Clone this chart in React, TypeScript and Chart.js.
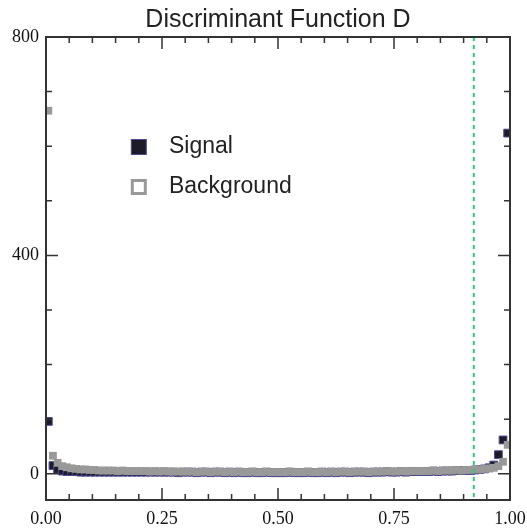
import { useEffect, useRef } from 'react';
import { Chart, registerables } from 'chart.js';

Chart.register(...registerables);

const titleText = 'Discriminant Function D';
const legendLabels = ['Signal', 'Background'];
const binWidth = 0.01;
const signalCounts = [
  96, 15, 8, 5, 4, 4, 4, 3, 3, 3,
  3, 3, 3, 3, 3, 3, 3, 3, 3, 3,
  3, 3, 3, 3, 3, 3, 3, 3, 2, 3,
  3, 3, 2, 3, 3, 2, 3, 3, 2, 3,
  2, 3, 2, 2, 3, 2, 2, 3, 2, 2,
  2, 2, 3, 2, 2, 2, 3, 2, 2, 3,
  2, 3, 2, 3, 3, 2, 3, 3, 3, 2,
  3, 3, 3, 4, 3, 3, 4, 3, 4, 4,
  4, 4, 4, 5, 4, 5, 5, 5, 6, 6,
  6, 6, 7, 8, 9, 11, 16, 35, 62, 624,
];
const backgroundCounts = [
  665, 33, 20, 14, 12, 10, 9, 8, 8, 7,
  7, 6, 6, 6, 6, 5, 6, 5, 5, 5,
  5, 5, 4, 5, 4, 5, 4, 4, 4, 4,
  4, 4, 3, 4, 4, 3, 4, 4, 3, 4,
  3, 4, 3, 3, 4, 3, 3, 4, 3, 3,
  3, 3, 4, 3, 3, 3, 4, 3, 3, 4,
  3, 4, 3, 4, 4, 3, 4, 4, 4, 3,
  4, 4, 4, 5, 4, 4, 5, 4, 5, 5,
  5, 5, 5, 6, 5, 6, 6, 6, 7, 6,
  7, 7, 8, 8, 9, 10, 11, 14, 22, 53,
];
const xTickValues = [0, 0.25, 0.5, 0.75, 1];
const yTickValues = [0, 400, 800];
const xMinorStep = 0.05;
const yMinorStep = 100;
const cutValue = 0.922;

const signalFill = '#1e1b29';
const signalEdge = '#4b4b92';
const backgroundFill = '#999999';

const toPoints = (arr: number[]) => arr.map((v, i) => ({ x: (i + 0.5) * binWidth, y: v }));

const framePlugin = {
  id: 'frameTicksLegend',
  afterDatasetsDraw(chart: any) {
    const { ctx, chartArea } = chart;
    const { left, right, top, bottom } = chartArea;
    const xs = chart.scales.x;
    const ys = chart.scales.y;
    ctx.save();
    // cut line
    const cx = xs.getPixelForValue(cutValue);
    ctx.strokeStyle = '#2ecc71';
    ctx.lineWidth = 2;
    ctx.setLineDash([4, 4]);
    ctx.beginPath();
    ctx.moveTo(cx, top);
    ctx.lineTo(cx, bottom);
    ctx.stroke();
    ctx.setLineDash([]);
    // frame
    ctx.strokeStyle = '#333333';
    ctx.lineWidth = 2;
    ctx.strokeRect(left, top, right - left, bottom - top);
    // x ticks
    ctx.lineWidth = 1.5;
    const nx = Math.round((xs.max - xs.min) / xMinorStep);
    for (let i = 0; i <= nx; i++) {
      const v = xs.min + i * xMinorStep;
      const px = xs.getPixelForValue(v);
      const major = xTickValues.some((t) => Math.abs(t - v) < 1e-6);
      const len = major ? 12 : 6;
      ctx.beginPath();
      ctx.moveTo(px, bottom);
      ctx.lineTo(px, bottom - len);
      ctx.moveTo(px, top);
      ctx.lineTo(px, top + len);
      ctx.stroke();
    }
    // y ticks
    for (let v = 0; v <= ys.max + 1e-6; v += yMinorStep) {
      const py = ys.getPixelForValue(v);
      const major = yTickValues.includes(v);
      const len = major ? 12 : 6;
      ctx.beginPath();
      ctx.moveTo(left, py);
      ctx.lineTo(left + len, py);
      ctx.moveTo(right, py);
      ctx.lineTo(right - len, py);
      ctx.stroke();
    }
    // legend
    const w = right - left;
    const h = bottom - top;
    const mx = left + 0.2 * w;
    const tx = left + 0.265 * w;
    const y1 = top + 0.2376 * h;
    const y2 = top + 0.324 * h;
    const s = 15;
    ctx.fillStyle = signalFill;
    ctx.fillRect(mx - s / 2, y1 - s / 2, s, s);
    ctx.strokeStyle = signalEdge;
    ctx.lineWidth = 1;
    ctx.strokeRect(mx - s / 2, y1 - s / 2, s, s);
    ctx.strokeStyle = backgroundFill;
    ctx.lineWidth = 3;
    ctx.strokeRect(mx - s / 2 + 1, y2 - s / 2 + 1, s - 2, s - 2);
    ctx.fillStyle = '#222222';
    ctx.font = '23px "Liberation Sans", Arial, sans-serif';
    ctx.textAlign = 'left';
    ctx.textBaseline = 'middle';
    ctx.fillText(legendLabels[0], tx, y1);
    ctx.fillText(legendLabels[1], tx, y2);
    // title
    ctx.font = '25px "Liberation Sans", Arial, sans-serif';
    ctx.textAlign = 'center';
    ctx.textBaseline = 'alphabetic';
    ctx.fillStyle = '#222222';
    ctx.fillText(titleText, (left + right) / 2, top - 10);
    ctx.restore();
  },
};

export default function App() {
  const ref = useRef<HTMLCanvasElement>(null);
  useEffect(() => {
    if (!ref.current) return;
    const chart = new Chart(ref.current, {
      type: 'scatter',
      data: {
        datasets: [
          {
            label: legendLabels[1],
            data: toPoints(backgroundCounts),
            backgroundColor: backgroundFill,
            borderColor: backgroundFill,
            borderWidth: 0,
            pointStyle: 'rect',
            pointRadius: 5.5,
            pointHoverRadius: 5.5,
            order: 0,
          },
          {
            label: legendLabels[0],
            data: toPoints(signalCounts),
            backgroundColor: signalFill,
            borderColor: signalEdge,
            borderWidth: 1,
            pointStyle: 'rect',
            pointRadius: 5.5,
            pointHoverRadius: 5.5,
            order: 1,
          },
        ],
      },
      options: {
        animation: false,
        responsive: false,
        layout: { padding: { top: 37, right: 17, left: 0, bottom: 0 } },
        plugins: { legend: { display: false }, tooltip: { enabled: false }, title: { display: false } },
        scales: {
          x: {
            type: 'linear',
            min: 0,
            max: 1,
            afterBuildTicks: (s: any) => {
              s.ticks = xTickValues.map((v) => ({ value: v }));
            },
            afterFit: (s: any) => {
              s.height = 31;
              s.paddingLeft = 0;
              s.paddingRight = 0;
            },
            ticks: {
              callback: (v: any) => Number(v).toFixed(2),
              font: { family: '"Liberation Serif", "Times New Roman", serif', size: 18 },
              color: '#111111',
              padding: 8,
              maxRotation: 0,
              autoSkip: false,
            },
            grid: { display: false, drawTicks: false },
            border: { display: false },
          },
          y: {
            type: 'linear',
            min: -48,
            max: 800,
            afterBuildTicks: (s: any) => {
              s.ticks = yTickValues.map((v) => ({ value: v }));
            },
            afterFit: (s: any) => {
              s.width = 46;
              s.paddingTop = 0;
              s.paddingBottom = 0;
            },
            ticks: {
              callback: (v: any) => String(v),
              font: { family: '"Liberation Serif", "Times New Roman", serif', size: 18 },
              color: '#111111',
              padding: 7,
              autoSkip: false,
            },
            grid: { display: false, drawTicks: false },
            border: { display: false },
          },
        },
      },
      plugins: [framePlugin],
    });
    return () => chart.destroy();
  }, []);
  return (
    <div style={{ position: 'fixed', left: 0, top: 0, width: 527, height: 531, background: '#fff' }}>
      <canvas ref={ref} width={527} height={531} />
    </div>
  );
}
